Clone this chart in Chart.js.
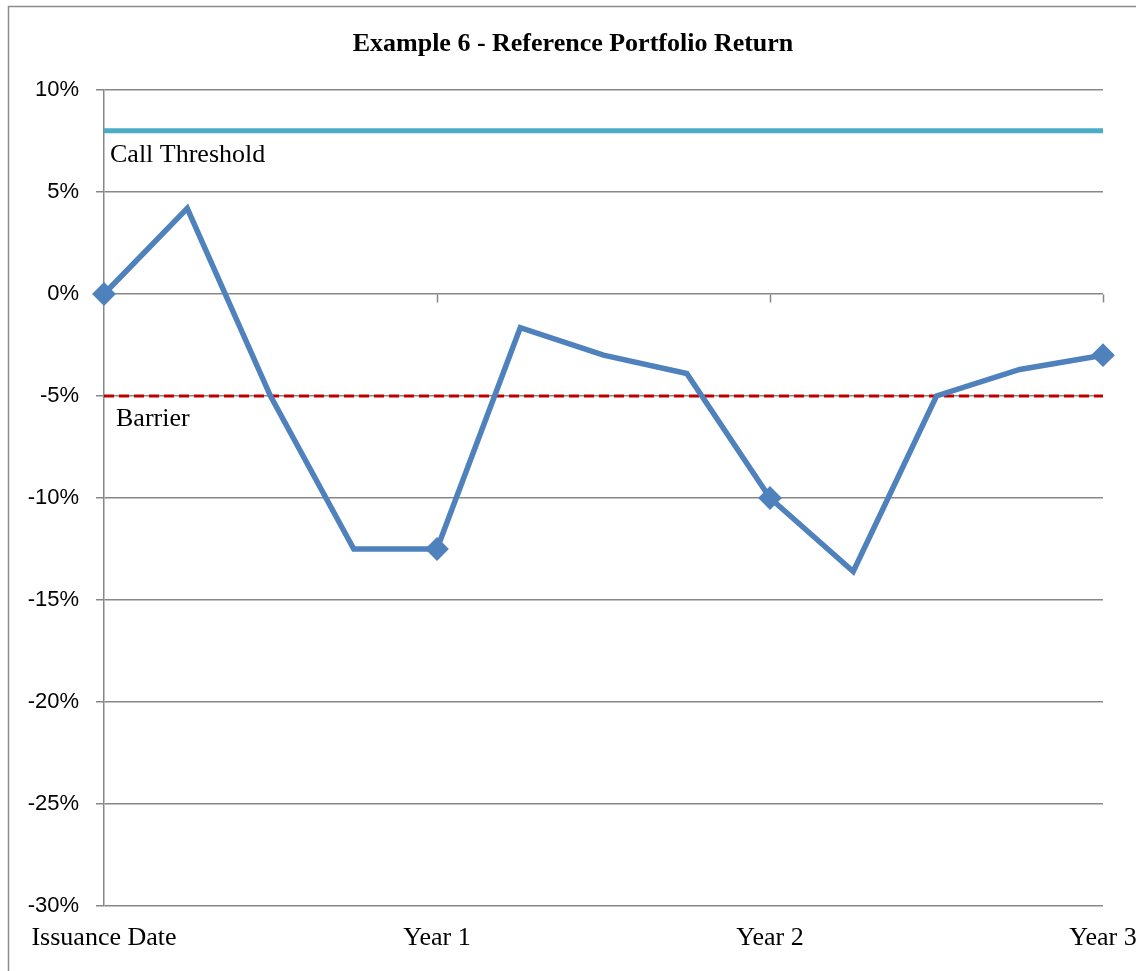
<!DOCTYPE html>
<html>
<head>
    <title>Example 6 - Reference Portfolio Return</title>
    <script src="https://cdn.jsdelivr.net/npm/chart.js"></script>
    <style>
        body { margin: 0; background: #fff; }
        #chart { display: block; }
    </style>
</head>
<body>
    <canvas id="chart" width="1136" height="971"></canvas>
    <script>
        // Chart data (quarterly observations over 3 years)
        const chartTitle = 'Example 6 - Reference Portfolio Return';
        const periods = ['Issuance Date', '', '', '', 'Year 1', '', '', '', 'Year 2', '', '', '', 'Year 3'];
        const portfolioReturn = [0, 4.2, -5.0, -12.5, -12.5, -1.65, -3.0, -3.9, -10.0, -13.6, -5.0, -3.7, -3.0];
        const markerAt = [0, 4, 8, 12];
        const callThreshold = 8;
        const barrier = -5;
        const levelLabels = ['Call Threshold', 'Barrier'];
        const yTicks = [10, 5, 0, -5, -10, -15, -20, -25, -30];

        // title, frame, level labels and the 0% axis ticks
        const extras = {
            id: 'extras',
            beforeDatasetsDraw(chart) {
                const ctx = chart.ctx;
                const x = chart.scales.x, y = chart.scales.y;
                ctx.save();
                ctx.strokeStyle = '#868686';
                ctx.lineWidth = 1.5;
                const y0 = Math.round(y.getPixelForValue(0)) + 0.5;
                markerAt.slice(1).forEach(i => {
                    const px = Math.round(x.getPixelForValue(i)) + 0.5;
                    ctx.beginPath();
                    ctx.moveTo(px, y0);
                    ctx.lineTo(px, y0 + 8);
                    ctx.stroke();
                });
                ctx.restore();
            },
            afterDraw(chart) {
                const ctx = chart.ctx;
                const y = chart.scales.y;
                ctx.save();
                // outer frame
                ctx.strokeStyle = '#8c8c8c';
                ctx.lineWidth = 1.5;
                ctx.beginPath();
                ctx.moveTo(8.5, 980);
                ctx.lineTo(8.5, 6.5);
                ctx.lineTo(1140, 6.5);
                ctx.stroke();
                // title
                ctx.fillStyle = '#000';
                ctx.textAlign = 'center';
                ctx.textBaseline = 'middle';
                ctx.font = 'bold 26px "Liberation Serif"';
                ctx.fillText(chartTitle, 573, 44);
                // level labels
                ctx.textAlign = 'left';
                ctx.font = '26px "Liberation Serif"';
                ctx.fillText(levelLabels[0], 110, y.getPixelForValue(callThreshold) + 24);
                ctx.fillText(levelLabels[1], 116, y.getPixelForValue(barrier) + 23);
                ctx.restore();
            }
        };

        new Chart(document.getElementById('chart'), {
            type: 'line',
            data: {
                labels: periods,
                datasets: [
                    {
                        label: 'Reference Portfolio Return',
                        data: portfolioReturn,
                        borderColor: '#4F81BD',
                        backgroundColor: '#4F81BD',
                        borderWidth: 5.5,
                        tension: 0,
                        pointStyle: 'rectRot',
                        pointRadius: periods.map((p, i) => markerAt.includes(i) ? 8 : 0),
                        order: 1
                    },
                    {
                        label: levelLabels[0],
                        data: periods.map(() => callThreshold),
                        borderColor: '#4BACC6',
                        borderWidth: 5,
                        pointRadius: 0,
                        order: 2
                    },
                    {
                        label: levelLabels[1],
                        data: periods.map(() => barrier),
                        borderColor: '#C00000',
                        borderWidth: 3,
                        borderDash: [10, 5],
                        pointRadius: 0,
                        order: 2
                    }
                ]
            },
            options: {
                responsive: false,
                animation: false,
                layout: { padding: { left: 0, top: 90, right: 33, bottom: 10 } },
                plugins: {
                    legend: { display: false },
                    tooltip: { enabled: false },
                    title: { display: false }
                },
                scales: {
                    x: {
                        type: 'category',
                        offset: false,
                        grid: { display: false, drawTicks: false },
                        border: { display: false },
                        ticks: {
                            autoSkip: false,
                            maxRotation: 0,
                            padding: 17,
                            color: '#000',
                            font: { family: 'Liberation Serif', size: 26 }
                        },
                        afterFit: s => {
                            s.height = 55;
                            s.paddingLeft = 0;
                            s.paddingRight = 0;
                        }
                    },
                    y: {
                        min: yTicks[yTicks.length - 1],
                        max: yTicks[0],
                        afterBuildTicks: s => { s.ticks = yTicks.map(v => ({ value: v })); },
                        grid: { color: '#878787', lineWidth: 1.5, tickLength: 8 },
                        border: { color: '#878787', width: 1.5 },
                        ticks: {
                            padding: 17,
                            color: '#000',
                            font: { family: 'Liberation Sans', size: 22 },
                            callback: v => v + '%'
                        },
                        afterFit: s => { s.width = 104; }
                    }
                }
            },
            plugins: [extras]
        });
    </script>
</body>
</html>
